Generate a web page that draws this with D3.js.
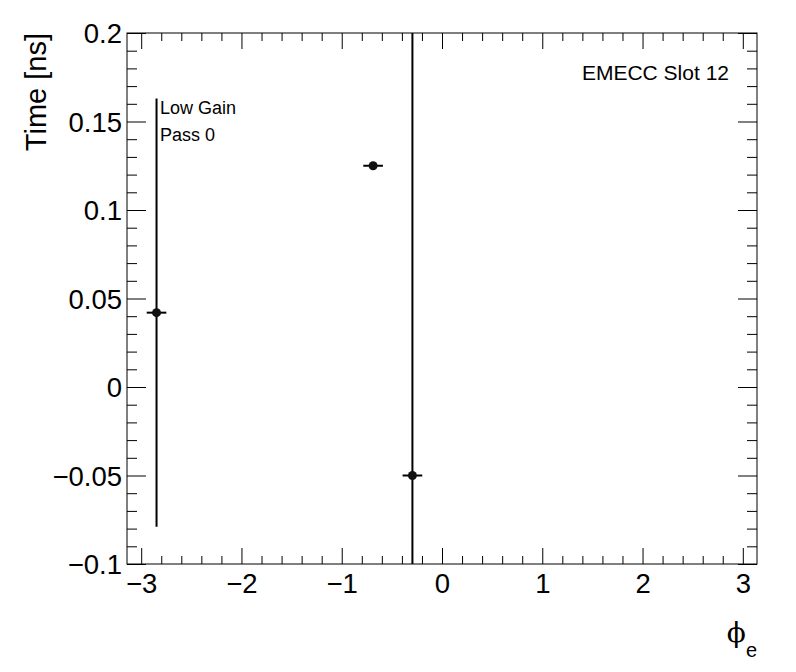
<!DOCTYPE html>
<html>
<head>
<meta charset="utf-8">
<script src="https://cdn.jsdelivr.net/npm/d3@7"></script>
<style>
  body { margin: 0; background: #fff; }
  text { font-family: "Liberation Sans", Arial, Helvetica, sans-serif; fill: #000; }
</style>
</head>
<body>
<div id="chart"></div>
<script>
// Data
const phiValues = [-2.847, -0.687, -0.295];
const timeValues = [0.042, 0.125, -0.05];
const timeErrors = [0.121, 0.001, 0.35];
const phiErrors = [0.098, 0.098, 0.098];
const yTickValues = [-0.1, -0.05, 0, 0.05, 0.1, 0.15, 0.2];
const yTickLabels = ["\u22120.1", "\u22120.05", "0", "0.05", "0.1", "0.15", "0.2"];
const xTickValues = [-3, -2, -1, 0, 1, 2, 3];
const xTickLabels = ["\u22123", "\u22122", "\u22121", "0", "1", "2", "3"];

const points = phiValues.map((x, i) => ({
  x: x, y: timeValues[i], ey: timeErrors[i], ex: phiErrors[i]
}));

const width = 796;
const height = 672;
const margin = { top: 33, bottom: 108, left: 127, right: 39 };

const svg = d3
  .select("#chart")
  .append("svg")
  .attr("width", width)
  .attr("height", height);

const xScale = d3
  .scaleLinear()
  .domain([-Math.PI, Math.PI])
  .range([margin.left, width - margin.right]);

const yScale = d3
  .scaleLinear()
  .domain([-0.1, 0.2])
  .range([height - margin.bottom, margin.top]);

const x0 = margin.left, x1 = width - margin.right;
const y0 = height - margin.bottom, y1 = margin.top;

// minor tick positions
const yMinor = d3.range(-10, 21).map((d) => d / 100).filter((d) => Math.round(d * 100) % 5 !== 0);
const xMinor = d3.range(-15, 16).map((d) => d / 5)
  .filter((d) => Math.round(d * 5) % 5 !== 0 && d >= -Math.PI && d <= Math.PI);

function styleAxis(g) {
  g.select(".domain").remove();
  g.selectAll("line").attr("stroke", "#000").attr("stroke-width", 1);
}

// Axes: left
svg.append("g")
  .attr("transform", `translate(${x0}, 0)`)
  .call(d3.axisLeft(yScale).tickValues(yTickValues)
    .tickFormat((d, i) => yTickLabels[i]).tickSize(-19).tickPadding(5))
  .call(styleAxis)
  .call((g) => g.selectAll("text").style("font-size", "27.5px").attr("dy", "0.36em"));

svg.append("g")
  .attr("transform", `translate(${x0}, 0)`)
  .call(d3.axisLeft(yScale).tickValues(yMinor).tickFormat("").tickSize(-10))
  .call(styleAxis);

// right
svg.append("g")
  .attr("transform", `translate(${x1}, 0)`)
  .call(d3.axisRight(yScale).tickValues(yTickValues).tickFormat("").tickSize(-19))
  .call(styleAxis);

svg.append("g")
  .attr("transform", `translate(${x1}, 0)`)
  .call(d3.axisRight(yScale).tickValues(yMinor).tickFormat("").tickSize(-10))
  .call(styleAxis);

// bottom
svg.append("g")
  .attr("transform", `translate(0, ${y0})`)
  .call(d3.axisBottom(xScale).tickValues(xTickValues)
    .tickFormat((d, i) => xTickLabels[i]).tickSize(-16).tickPadding(9))
  .call(styleAxis)
  .call((g) => g.selectAll("text").style("font-size", "27.5px"));

svg.append("g")
  .attr("transform", `translate(0, ${y0})`)
  .call(d3.axisBottom(xScale).tickValues(xMinor).tickFormat("").tickSize(-8))
  .call(styleAxis);

// top
svg.append("g")
  .attr("transform", `translate(0, ${y1})`)
  .call(d3.axisTop(xScale).tickValues(xTickValues).tickFormat("").tickSize(-16))
  .call(styleAxis);

svg.append("g")
  .attr("transform", `translate(0, ${y1})`)
  .call(d3.axisTop(xScale).tickValues(xMinor).tickFormat("").tickSize(-8))
  .call(styleAxis);

// frame
svg.append("rect")
  .attr("x", x0)
  .attr("y", y1)
  .attr("width", x1 - x0)
  .attr("height", y0 - y1)
  .attr("fill", "none")
  .attr("stroke", "#000")
  .attr("stroke-width", 1);

// Data points with error bars
svg.append("clipPath")
  .attr("id", "frame-clip")
  .append("rect")
  .attr("x", x0)
  .attr("y", y1)
  .attr("width", x1 - x0)
  .attr("height", y0 - y1);

const plot = svg.append("g").attr("clip-path", "url(#frame-clip)");

plot.selectAll("line.ey")
  .data(points)
  .enter()
  .append("line")
  .attr("class", "ey")
  .attr("x1", (d) => xScale(d.x))
  .attr("x2", (d) => xScale(d.x))
  .attr("y1", (d) => yScale(d.y + d.ey))
  .attr("y2", (d) => yScale(d.y - d.ey))
  .attr("stroke", "#000")
  .attr("stroke-width", 2);

plot.selectAll("line.ex")
  .data(points)
  .enter()
  .append("line")
  .attr("class", "ex")
  .attr("x1", (d) => xScale(d.x - d.ex))
  .attr("x2", (d) => xScale(d.x + d.ex))
  .attr("y1", (d) => yScale(d.y))
  .attr("y2", (d) => yScale(d.y))
  .attr("stroke", "#000")
  .attr("stroke-width", 2);

plot.selectAll("circle")
  .data(points)
  .enter()
  .append("circle")
  .attr("cx", (d) => xScale(d.x))
  .attr("cy", (d) => yScale(d.y))
  .attr("r", 4.5)
  .style("fill", "#111");

// Labels

svg.append("text")
  .attr("x", 160)
  .attr("y", 114)
  .style("font-size", "18px")
  .text("Low Gain");

svg.append("text")
  .attr("x", 160)
  .attr("y", 141)
  .style("font-size", "18px")
  .text("Pass 0");

svg.append("text")
  .attr("x", 729)
  .attr("y", 80)
  .attr("text-anchor", "end")
  .style("font-size", "21px")
  .text("EMECC Slot 12");

svg.append("text")
  .attr("transform", `translate(46, ${y1}) rotate(-90)`)
  .attr("text-anchor", "end")
  .style("font-size", "29px")
  .text("Time [ns]");

const xTitle = svg.append("text")
  .attr("x", 757)
  .attr("y", 642)
  .attr("text-anchor", "end");
xTitle.append("tspan").style("font-size", "28px").style("font-family", "DejaVu Serif, serif").text("\u03d5");
xTitle.append("tspan").attr("dy", 15).style("font-size", "20px").text("e");
</script>
</body>
</html>
